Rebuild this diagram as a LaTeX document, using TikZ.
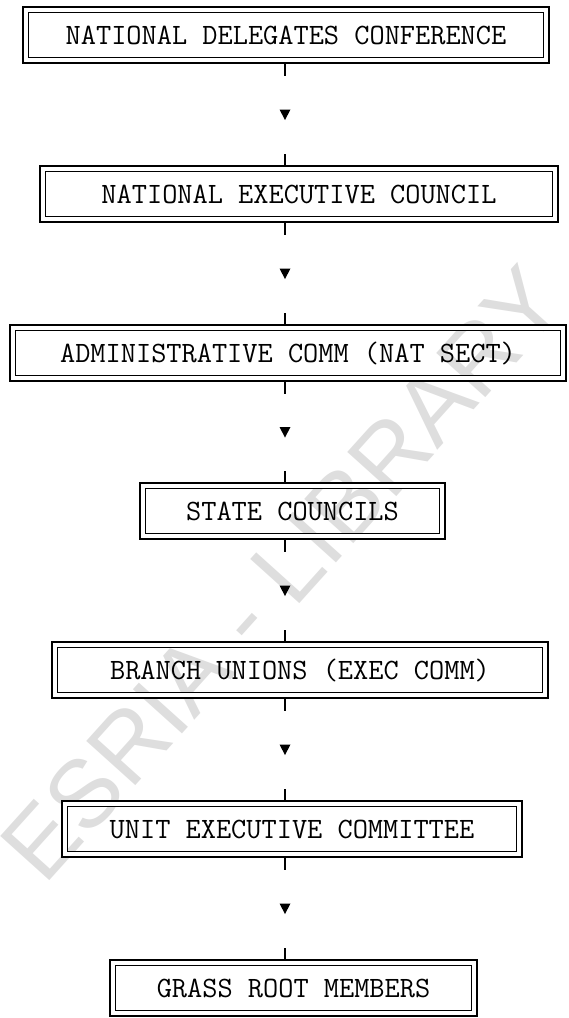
\documentclass[tikz,border=0pt]{standalone}
\usepackage{fontspec}
\newfontfamily\wmfont{Liberation Sans}
\usetikzlibrary{calc}
\tikzset{
  orgbox/.style={draw, double, line width=1.3pt, double distance=4.2pt, inner sep=0pt,
    minimum height=50.5pt, font=\ttfamily\fontsize{29.5}{30}\selectfont, text=black},
  conntick/.style={line width=1.4pt},
  wmark/.style={text=black!13, font=\wmfont\fontsize{96}{96}\selectfont, rotate=48}
}
\begin{document}
\begin{tikzpicture}[x=1pt,y=-1pt]
\useasboundingbox (0,0) rectangle (568,1018);
\clip (0,0) rectangle (568,1018);
\node[wmark] (wm) at (282,574) {ESRIA - LIBRARY};
\coordinate (axis) at (285,0);
\node[orgbox, minimum width=520.5pt] (b1) at (286,35)  {NATIONAL DELEGATES CONFERENCE};
\node[orgbox, minimum width=512.5pt] (b2) at (299,194) {NATIONAL EXECUTIVE COUNCIL};
\node[orgbox, minimum width=550.5pt] (b3) at (288,353) {ADMINISTRATIVE COMM (NAT SECT)};
\node[orgbox, minimum width=299.5pt] (b4) at (292.5,511) {STATE COUNCILS};
\node[orgbox, minimum width=490.5pt] (b5) at (300,670) {BRANCH UNIONS (EXEC COMM)};
\node[orgbox, minimum width=454.5pt] (b6) at (292,829) {UNIT EXECUTIVE COMMITTEE};
\node[orgbox, minimum width=361.5pt] (b7) at (293.5,988) {GRASS ROOT MEMBERS};
\foreach \a/\b in {b1/b2,b2/b3,b3/b4,b4/b5,b5/b6,b6/b7}{
  \coordinate (top-\a) at ($(\a.south -| axis)+(0,2.75)$);
  \coordinate (bot-\b) at ($(\b.north -| axis)+(0,-2.75)$);
  \draw[conntick] (top-\a) -- ++(0,12);
  \draw[conntick] (bot-\b) -- ++(0,-11);
  \coordinate (mid-\a) at ($(top-\a)!0.5!(bot-\b)$);
  \fill ($(mid-\a)+(-5.5,-5)$) -- ($(mid-\a)+(5.5,-5)$) -- ($(mid-\a)+(0,5.5)$) -- cycle;
}
\end{tikzpicture}
\end{document}
